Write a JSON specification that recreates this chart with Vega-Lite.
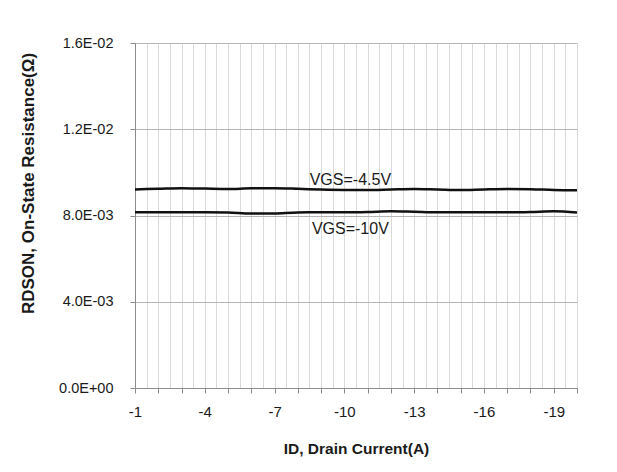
{
  "$schema": "https://vega.github.io/schema/vega-lite/v6.json",
  "width": 442,
  "height": 345,
  "autosize": "none",
  "padding": {"left": 135, "top": 43, "right": 40, "bottom": 84},
  "background": "white",
  "config": {
    "view": {"stroke": null},
    "font": "Liberation Sans"
  },
  "data": {
    "values": [
      {"ID": -1, "R": 0.009210, "VGS": "VGS=-4.5V"},
      {"ID": -2, "R": 0.009238, "VGS": "VGS=-4.5V"},
      {"ID": -3, "R": 0.009266, "VGS": "VGS=-4.5V"},
      {"ID": -4, "R": 0.009248, "VGS": "VGS=-4.5V"},
      {"ID": -5, "R": 0.009229, "VGS": "VGS=-4.5V"},
      {"ID": -6, "R": 0.009262, "VGS": "VGS=-4.5V"},
      {"ID": -7, "R": 0.009266, "VGS": "VGS=-4.5V"},
      {"ID": -8, "R": 0.009238, "VGS": "VGS=-4.5V"},
      {"ID": -9, "R": 0.009201, "VGS": "VGS=-4.5V"},
      {"ID": -10, "R": 0.009183, "VGS": "VGS=-4.5V"},
      {"ID": -11, "R": 0.009183, "VGS": "VGS=-4.5V"},
      {"ID": -12, "R": 0.009206, "VGS": "VGS=-4.5V"},
      {"ID": -13, "R": 0.009229, "VGS": "VGS=-4.5V"},
      {"ID": -14, "R": 0.009206, "VGS": "VGS=-4.5V"},
      {"ID": -15, "R": 0.009183, "VGS": "VGS=-4.5V"},
      {"ID": -16, "R": 0.009210, "VGS": "VGS=-4.5V"},
      {"ID": -17, "R": 0.009229, "VGS": "VGS=-4.5V"},
      {"ID": -18, "R": 0.009220, "VGS": "VGS=-4.5V"},
      {"ID": -19, "R": 0.009183, "VGS": "VGS=-4.5V"},
      {"ID": -20, "R": 0.009169, "VGS": "VGS=-4.5V"},
      {"ID": -1, "R": 0.008148, "VGS": "VGS=-10V"},
      {"ID": -2, "R": 0.008148, "VGS": "VGS=-10V"},
      {"ID": -3, "R": 0.008148, "VGS": "VGS=-10V"},
      {"ID": -4, "R": 0.008148, "VGS": "VGS=-10V"},
      {"ID": -5, "R": 0.008134, "VGS": "VGS=-10V"},
      {"ID": -6, "R": 0.008088, "VGS": "VGS=-10V"},
      {"ID": -7, "R": 0.008097, "VGS": "VGS=-10V"},
      {"ID": -8, "R": 0.008144, "VGS": "VGS=-10V"},
      {"ID": -9, "R": 0.008148, "VGS": "VGS=-10V"},
      {"ID": -10, "R": 0.008148, "VGS": "VGS=-10V"},
      {"ID": -11, "R": 0.008162, "VGS": "VGS=-10V"},
      {"ID": -12, "R": 0.008195, "VGS": "VGS=-10V"},
      {"ID": -13, "R": 0.008172, "VGS": "VGS=-10V"},
      {"ID": -14, "R": 0.008148, "VGS": "VGS=-10V"},
      {"ID": -15, "R": 0.008148, "VGS": "VGS=-10V"},
      {"ID": -16, "R": 0.008148, "VGS": "VGS=-10V"},
      {"ID": -17, "R": 0.008148, "VGS": "VGS=-10V"},
      {"ID": -18, "R": 0.008162, "VGS": "VGS=-10V"},
      {"ID": -19, "R": 0.008195, "VGS": "VGS=-10V"},
      {"ID": -20, "R": 0.008134, "VGS": "VGS=-10V"}
    ]
  },
  "resolve": {"axis": {"x": "independent"}},
  "layer": [
    {
      "mark": {"type": "line", "color": "#111111", "strokeWidth": 2.5, "interpolate": "monotone"},
      "encoding": {
        "x": {
          "field": "ID", "type": "quantitative",
          "scale": {"domain": [-20, -1], "reverse": true, "nice": false, "zero": false},
          "axis": {
            "values": [-1,-2,-3,-4,-5,-6,-7,-8,-9,-10,-11,-12,-13,-14,-15,-16,-17,-18,-19,-20],
            "labelExpr": "((-datum.value - 1) % 3 == 0) ? ('' + datum.value) : ''",
            "labelOverlap": false,
            "labelFlush": false,
            "grid": false,
            "domainColor": "#8c8c8c",
            "tickColor": "#8c8c8c",
            "tickSize": 5,
            "labelFontSize": 15,
            "labelColor": "#1a1a1a",
            "labelPadding": 11,
            "title": "ID, Drain Current(A)",
            "titleFontSize": 15.5,
            "titleFontWeight": "bold",
            "titleColor": "#1a1a1a",
            "titleBaseline": "middle",
            "titleY": 60
          }
        },
        "y": {
          "field": "R", "type": "quantitative",
          "scale": {"domain": [0, 0.016], "nice": false, "zero": true},
          "axis": {
            "values": [0, 0.004, 0.008, 0.012, 0.016],
            "labelExpr": "datum.value == 0 ? '0.0E+00' : format(datum.value / pow(10, floor(log(datum.value) / LN10)), '.1f') + 'E' + (floor(log(datum.value) / LN10) < 0 ? '-' : '+') + (abs(floor(log(datum.value) / LN10)) < 10 ? '0' : '') + abs(floor(log(datum.value) / LN10))",
            "grid": true,
            "gridColor": "#b5b5b5",
            "domainColor": "#8c8c8c",
            "tickColor": "#8c8c8c",
            "tickSize": 5,
            "labelFontSize": 14.5,
            "labelColor": "#1a1a1a",
            "labelPadding": 17,
            "title": "RDSON, On-State Resistance(Ω)",
            "titleFontSize": 17,
            "titleFontWeight": "bold",
            "titleColor": "#1a1a1a",
            "titleAngle": -90,
            "titleAlign": "center",
            "titleBaseline": "middle",
            "titleX": -107,
            "titleY": 140
          }
        },
        "detail": {"field": "VGS", "type": "nominal"}
      }
    },
    {
      "transform": [{"filter": "datum.VGS == 'VGS=-4.5V' && datum.ID == -10"}],
      "mark": {"type": "text", "dx": 6, "dy": -5, "baseline": "alphabetic", "align": "center", "fontSize": 16, "color": "#1a1a1a"},
      "encoding": {
        "x": {
          "field": "ID", "type": "quantitative",
          "axis": {
            "orient": "top",
            "values": [-1,-1.5,-2,-2.5,-3,-3.5,-4,-4.5,-5,-5.5,-6,-6.5,-7,-7.5,-8,-8.5,-9,-9.5,-10,-10.5,-11,-11.5,-12,-12.5,-13,-13.5,-14,-14.5,-15,-15.5,-16,-16.5,-17,-17.5,-18,-18.5,-19,-19.5,-20],
            "grid": true,
            "gridColor": "#d9d9d9",
            "domain": false,
            "ticks": false,
            "labels": false,
            "title": null
          }
        },
        "y": {"field": "R", "type": "quantitative"},
        "text": {"field": "VGS", "type": "nominal"}
      }
    },
    {
      "transform": [{"filter": "datum.VGS == 'VGS=-10V' && datum.ID == -10"}],
      "mark": {"type": "text", "dx": 6, "dy": 22, "baseline": "alphabetic", "align": "center", "fontSize": 16, "color": "#1a1a1a"},
      "encoding": {
        "x": {"field": "ID", "type": "quantitative", "axis": null},
        "y": {"field": "R", "type": "quantitative"},
        "text": {"field": "VGS", "type": "nominal"}
      }
    }
  ]
}
